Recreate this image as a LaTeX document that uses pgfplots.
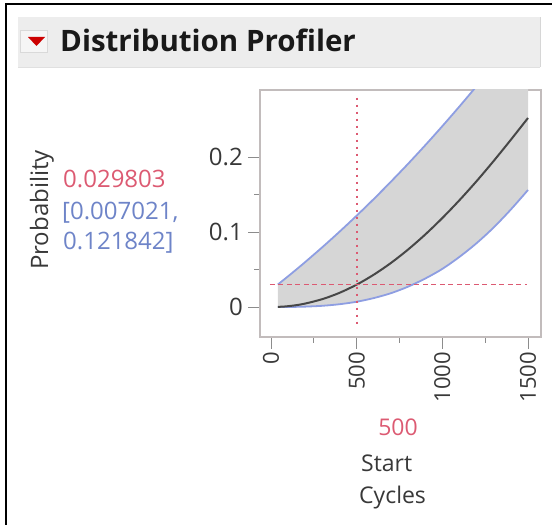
\documentclass[border=0pt]{standalone}
\usepackage{pgfplots}
\pgfplotsset{compat=1.18}
\usepackage{pgfplotstable}
\usepackage{fontspec}
\setmainfont{Open Sans}
\definecolor{jred}{HTML}{DC5A72}
\definecolor{jblue}{HTML}{6E84C8}
\definecolor{bandgray}{HTML}{D6D6D6}
\definecolor{bandline}{HTML}{8E9EE2}
\definecolor{txtgray}{HTML}{383838}
\definecolor{framegray}{HTML}{C2BCBC}
\definecolor{tickgray}{HTML}{8C8C8C}
\pgfplotstableread{
t lo mid up
40 0.0000 0.0002 0.0300
70 0.0000 0.0005 0.0355
100 0.0001 0.0011 0.0410
150 0.0002 0.0025 0.0504
200 0.0005 0.0046 0.0600
300 0.0016 0.0105 0.0798
400 0.0037 0.0189 0.1004
500 0.0070 0.0298 0.1218
600 0.0119 0.0431 0.1440
700 0.0184 0.0587 0.1671
800 0.0271 0.0766 0.1909
900 0.0379 0.0966 0.2156
1000 0.0508 0.1186 0.2411
1100 0.0668 0.1424 0.2674
1200 0.0851 0.1678 0.2945
1300 0.1061 0.1948 0.3224
1400 0.1300 0.2230 0.3512
1500 0.1560 0.2520 0.3807
}\prof
\pgfplotstableread{
t v
40 0.0300
70 0.0355
100 0.0410
150 0.0504
200 0.0600
300 0.0798
400 0.1004
500 0.1218
600 0.1440
700 0.1671
800 0.1909
900 0.2156
1000 0.2411
1100 0.2674
1200 0.2945
1300 0.3224
1400 0.3512
1500 0.3807
1500 0.1560
1400 0.1300
1300 0.1061
1200 0.0851
1100 0.0668
1000 0.0508
900 0.0379
800 0.0271
700 0.0184
600 0.0119
500 0.0070
400 0.0037
300 0.0016
200 0.0005
150 0.0002
100 0.0001
70 0.0000
40 0.0000
}\band
\begin{document}
\begin{tikzpicture}
\path[use as bounding box] (0,0) rectangle (552bp,525bp);
% outer frame (top and left only)
\draw[line width=2bp,black] (6bp,0bp) -- (6bp,521bp) -- (552bp,521bp);
% title band
\fill[color=black!7] (18bp,458bp) rectangle (540bp,508bp);
\draw[color=black!16,line width=0.8bp] (540bp,458bp) -- (540bp,508bp);
\draw[color=black!12,line width=0.8bp] (18bp,458bp) -- (540bp,458bp);
\fill[color=black!4,draw=black!15,line width=0.6bp] (20bp,473bp) rectangle (47bp,495bp);
\fill[color=red!80!black] (28bp,488bp) -- (45bp,488bp) -- (36.5bp,479bp) -- cycle;
\node[anchor=base west,inner sep=0pt,text=black!90,font=\fontsize{29.5bp}{33bp}\selectfont\bfseries] at (60bp,473bp) {Distribution Profiler};
% left texts
\node[rotate=90,inner sep=0pt,text=txtgray,font=\fontsize{24bp}{28bp}\selectfont] at (42bp,315bp) {Probability};
\node[anchor=west,inner sep=0pt,text=jred,font=\fontsize{24bp}{28bp}\selectfont] at (63bp,346bp) {0.029803};
\node[anchor=west,inner sep=0pt,text=jblue,font=\fontsize{24bp}{28bp}\selectfont] at (62bp,312bp) {[0.007021,};
\node[anchor=west,inner sep=0pt,text=jblue,font=\fontsize{24bp}{28bp}\selectfont] at (63bp,282bp) {0.121842]};
% bottom texts
\node[anchor=base,inner sep=0pt,text=jred,font=\fontsize{23bp}{27bp}\selectfont] at (398bp,89bp) {500};
\node[anchor=base west,inner sep=0pt,text=txtgray,font=\fontsize{23bp}{27bp}\selectfont] at (361bp,53bp) {Start};
\node[anchor=base west,inner sep=0pt,text=txtgray,font=\fontsize{23bp}{27bp}\selectfont] at (359bp,22bp) {Cycles};
\begin{axis}[
  at={(260bp,188bp)}, anchor=south west,
  width=281bp, height=247bp, scale only axis,
  xmin=-64.2, xmax=1575.9, ymin=-0.04, ymax=0.2893,
  xtick={0,500,1000,1500}, ytick={0,0.1,0.2},
  minor x tick num=1, minor y tick num=1,
  xtick pos=left, ytick pos=left,
  tick align=outside,
  major tick length=12bp, minor tick length=6bp,
  tick style={color=tickgray,line width=0.9bp},
  axis line style={color=framegray,line width=1.3bp},
  /pgf/number format/assume math mode=true,
  /pgf/number format/1000 sep={},
  xticklabel style={font=\fontsize{22bp}{26bp}\selectfont,text=txtgray,rotate=90,anchor=east,inner sep=3bp},
  yticklabel style={font=\fontsize{24bp}{28bp}\selectfont,text=txtgray,inner sep=5bp},
]
\addplot[fill=bandgray,draw=none] table[x=t,y=v]{\band} -- cycle;
\addplot[color=bandline,line width=1.8bp,smooth] table[x=t,y=up]{\prof};
\addplot[color=bandline,line width=1.8bp,smooth] table[x=t,y=lo]{\prof};
\addplot[color=black!72,line width=2bp,smooth] table[x=t,y=mid]{\prof};
\addplot[color=jred,line width=1.8bp,dash pattern=on 2.5bp off 4.5bp] coordinates {(500,0.279) (500,-0.027)};
\addplot[color=jred,line width=1.6bp,dash pattern=on 5bp off 3.5bp] coordinates {(-6,0.0298) (1494,0.0298)};
\end{axis}
\end{tikzpicture}
\end{document}
